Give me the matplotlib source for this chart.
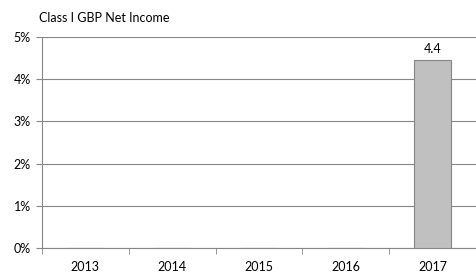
import matplotlib
matplotlib.use("Agg")
import matplotlib.pyplot as plt
import numpy as np

plt.rcParams['font.family'] = ['Lato', 'DejaVu Sans']

years = ["2013", "2014", "2015", "2016", "2017"]
values = [0, 0, 0, 0, 4.45]
labels = ["", "", "", "", "4.4"]

fig = plt.figure(figsize=(4.76, 2.75), dpi=100)
ax = fig.add_axes([0.088, 0.098, 0.912, 0.767])

x = np.arange(len(years))
bars = ax.bar(x, values, width=0.42, color="#c0c0c0", edgecolor="#868686", linewidth=0.8, zorder=3)
for xi, v, lab in zip(x, values, labels):
    if lab:
        ax.text(xi, v + 0.12, lab, ha="center", va="bottom", fontsize=9, color="black")

ax.set_xlim(-0.5, len(years) - 0.5)
ax.set_ylim(0, 5)
ax.set_yticks(range(0, 6))
ax.set_yticklabels([f"{i}%" for i in range(0, 6)], fontsize=9)
ax.set_xticks(x)
ax.set_xticklabels(years, fontsize=9)
ax.set_xticks(np.arange(-0.5, len(years)), minor=True)
ax.tick_params(axis="x", which="major", length=0, pad=9)
ax.tick_params(axis="x", which="minor", length=4, color="#868686", direction="out")
ax.tick_params(axis="y", length=4, color="#868686", pad=4)
ax.grid(axis="y", color="#868686", linewidth=0.8, zorder=0)
for s in ["top", "right"]:
    ax.spines[s].set_visible(False)
ax.spines["left"].set_color("#868686")
ax.spines["bottom"].set_color("#868686")

fig.text(0.082, 0.935, "Class I GBP Net Income", fontsize=9, ha="left", va="center")

fig.savefig("out.png", dpi=100)
